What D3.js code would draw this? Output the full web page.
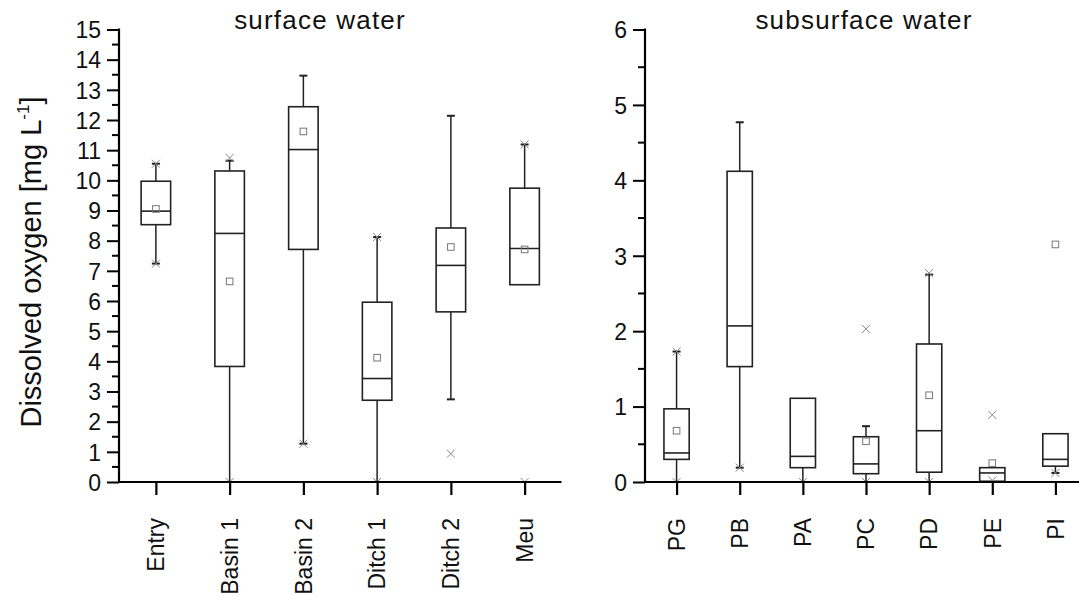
<!DOCTYPE html>
<html><head><meta charset="utf-8">
<script src="https://cdn.jsdelivr.net/npm/d3@7"></script>
<style>body{margin:0;background:#fff}svg{display:block}text{font-family:"Liberation Sans",Arial,sans-serif;fill:#111}</style>
</head><body>
<svg id="c" width="1079" height="596"></svg>
<script>
// ---- surface water ----
const surfCats = ["Entry","Basin 1","Basin 2","Ditch 1","Ditch 2","Meu"];
const surfWLo  = [7.24, 0, 1.27, 0, 2.74, 6.54];
const surfQ1   = [8.53, 3.83, 7.71, 2.71, 5.64, 6.54];
const surfMed  = [8.98, 8.24, 11.02, 3.43, 7.18, 7.74];
const surfQ3   = [9.97, 10.31, 12.44, 5.96, 8.42, 9.74];
const surfWHi  = [10.55, 10.65, 13.47, 8.12, 12.14, 11.19];
const surfMean = [9.05, 6.65, 11.62, 4.12, 7.79, 7.71];
const surfX    = [[7.24,10.55],[0,10.74],[1.27],[0,8.12],[0.94],[0,11.19]];
const surfTicks = [0,1,2,3,4,5,6,7,8,9,10,11,12,13,14,15];
// ---- subsurface water ----
const subCats = ["PG","PB","PA","PC","PD","PE","PI"];
const subWLo  = [0, 0.19, 0, 0, 0, 0, 0.12];
const subQ1   = [0.30, 1.53, 0.19, 0.11, 0.13, 0.01, 0.21];
const subMed  = [0.385, 2.07, 0.34, 0.24, 0.68, 0.12, 0.30];
const subQ3   = [0.97, 4.12, 1.11, 0.60, 1.83, 0.19, 0.64];
const subWHi  = [1.73, 4.77, 1.11, 0.74, 2.75, 0.19, 0.64];
const subMean = [0.68, null, null, 0.54, 1.15, 0.25, 3.15];
const subX    = [[0,1.73],[0.19],[0],[0,2.03],[0,2.77],[0.02,0.89],[0.12]];
const subTicks = [0,1,2,3,4,5,6];

const svg = d3.select("#c");
const plotTop = 29.5, plotBottom = 482;

function panel(o){
  const g = svg.append("g");
  const x = d3.scalePoint().domain(o.cats).range([o.x0, o.x1]).padding(0.5);
  const y = d3.scaleLinear().domain([0, o.max]).range([plotBottom, plotTop]);
  const step = x.step(), bw = step*0.4;
  const clipId = "clip"+o.id;
  svg.append("clipPath").attr("id", clipId).append("rect")
    .attr("x", o.x0).attr("y", 0).attr("width", o.x1-o.x0).attr("height", plotBottom);
  const m = g.append("g").attr("clip-path", `url(#${clipId})`);
  o.cats.forEach((c,i)=>{
    const cx = x(c);
    const ln = (x1,y1,x2,y2,col,w)=>m.append("line").attr("x1",x1).attr("y1",y1).attr("x2",x2).attr("y2",y2)
      .attr("stroke",col||"#222").attr("stroke-width",w||1.5);
    if (o.wHi[i] > o.q3[i]) { ln(cx,y(o.q3[i]),cx,y(o.wHi[i])); ln(cx-4,y(o.wHi[i]),cx+4,y(o.wHi[i]),"#222",2); }
    if (o.wLo[i] < o.q1[i]) { ln(cx,y(o.q1[i]),cx,y(o.wLo[i])); ln(cx-4,y(o.wLo[i]),cx+4,y(o.wLo[i]),"#222",2); }
    m.append("rect").attr("x",cx-bw/2).attr("y",y(o.q3[i])).attr("width",bw)
      .attr("height",y(o.q1[i])-y(o.q3[i])).attr("fill","none").attr("stroke","#222").attr("stroke-width",1.6);
    ln(cx-bw/2,y(o.med[i]),cx+bw/2,y(o.med[i]),"#222",1.6);
    if (o.mean[i] != null) {
      m.append("rect").attr("x",cx-3.3).attr("y",y(o.mean[i])-3.3).attr("width",6.6).attr("height",6.6)
        .attr("fill","none").attr("stroke","#777").attr("stroke-width",1);
    }
    o.xs[i].forEach(v=>{
      const yy = y(v), s = 4;
      ln(cx-s,yy-s,cx+s,yy+s,"#888",1); ln(cx-s,yy+s,cx+s,yy-s,"#888",1);
    });
  });
  // y axis
  const ya = g.append("g").attr("transform",`translate(${o.x0},0)`)
    .call(d3.axisLeft(y).tickValues(o.ticks).tickSize(12).tickPadding(6).tickFormat(d3.format("d")));
  ya.select(".domain").remove();
  ya.selectAll(".tick line").attr("stroke","#000").attr("stroke-width",2);
  ya.selectAll(".tick text").attr("font-size",23).attr("dy","0.36em").attr("fill","#111");
  const minor = d3.range(0, o.max, 1).map(d=>d+0.5);
  g.selectAll(null).data(minor).enter().append("line")
    .attr("x1",o.x0-7).attr("x2",o.x0).attr("y1",d=>y(d)).attr("y2",d=>y(d)).attr("stroke","#000").attr("stroke-width",2);
  g.append("line").attr("x1",o.x0).attr("x2",o.x0).attr("y1",plotTop-1).attr("y2",plotBottom+1).attr("stroke","#000").attr("stroke-width",2.2);
  // x axis
  const xa = g.append("g").attr("transform",`translate(0,${plotBottom})`)
    .call(d3.axisBottom(x).tickSize(13).tickFormat(""));
  xa.select(".domain").remove();
  xa.selectAll(".tick line").attr("stroke","#000").attr("stroke-width",2.2);
  g.append("line").attr("x1",o.x0).attr("x2",o.x1).attr("y1",plotBottom).attr("y2",plotBottom).attr("stroke","#000").attr("stroke-width",2.2);
  g.selectAll(null).data(o.cats).enter().append("text")
    .attr("transform",d=>`translate(${x(d)},518) rotate(-90)`)
    .attr("text-anchor","end").attr("dy","0.36em").attr("font-size",23).text(d=>d);
  g.append("text").attr("x",o.tx).attr("y",29).attr("text-anchor","middle")
    .attr("font-size",26).attr("letter-spacing",1.2).text(o.title);
}

panel({id:1, cats:surfCats, wLo:surfWLo, q1:surfQ1, med:surfMed, q3:surfQ3, wHi:surfWHi, mean:surfMean, xs:surfX,
  ticks:surfTicks, max:15, x0:119, x1:561.5, tx:320, title:"surface water"});
panel({id:2, cats:subCats, wLo:subWLo, q1:subQ1, med:subMed, q3:subQ3, wHi:subWHi, mean:subMean, xs:subX,
  ticks:subTicks, max:6, x0:645, x1:1087, tx:864, title:"subsurface water"});

// y label
const yl = svg.append("text").attr("transform","translate(41,262) rotate(-90)")
  .attr("text-anchor","middle").attr("font-size",29);
yl.append("tspan").text("Dissolved oxygen [mg L");
yl.append("tspan").attr("font-size",17).attr("dy",-12).text("-1");
yl.append("tspan").attr("dy",12).text("]");
</script>
</body></html>
